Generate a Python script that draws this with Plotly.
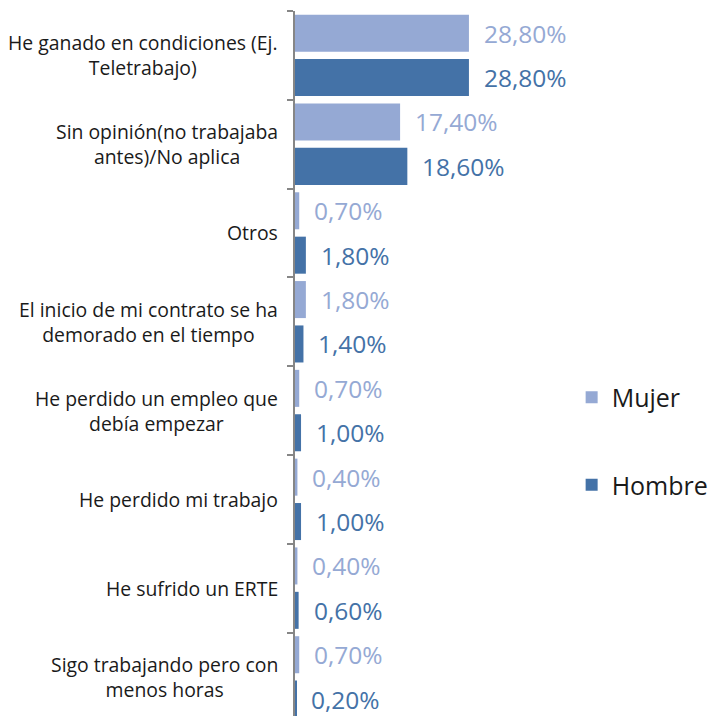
import plotly.graph_objects as go

categories = [
    "He ganado en condiciones (Ej.<br>Teletrabajo)",
    "Sin opinión(no trabajaba<br>antes)/No aplica",
    "Otros",
    "El inicio de mi contrato se ha<br>demorado en el tiempo",
    "He perdido un empleo que<br>debía empezar",
    "He perdido mi trabajo",
    "He sufrido un ERTE",
    "Sigo trabajando pero con<br>menos horas",
]
mujer = [28.8, 17.4, 0.7, 1.8, 0.7, 0.4, 0.4, 0.7]
hombre = [28.8, 18.6, 1.8, 1.4, 1.0, 1.0, 0.6, 0.2]

series = [("Mujer", mujer, "#95A9D4"), ("Hombre", hombre, "#4472A7")]

FONT = "Open Sans"
idx = list(range(len(categories)))


def fmt(v):
    return f"{v:.2f}".replace(".", ",") + "%"


fig = go.Figure()
for name, vals, color in series:
    fig.add_trace(go.Bar(
        name=name, y=idx, x=vals, orientation="h",
        marker=dict(color=color, line=dict(width=0)),
        legendgroup=name,
    ))

annotations = []
# value labels to the right of each bar
for k, (name, vals, color) in enumerate(series):
    off = -0.25 if k == 0 else 0.25
    for i, v in enumerate(vals):
        annotations.append(dict(
            x=v, y=i + off, xref="x", yref="y", text=fmt(v),
            showarrow=False, xanchor="left", yanchor="middle", xshift=13,
            font=dict(family=FONT, size=24.5, color=color),
        ))
# category labels, centred multi-line blocks
for i, c in enumerate(categories):
    annotations.append(dict(
        x=0, y=i, xref="paper", yref="y", text=c, showarrow=False,
        xanchor="right", yanchor="middle", align="center", xshift=-15,
        font=dict(family=FONT, size=19.4, color="#1a1a1a"),
    ))

fig.update_layout(
    width=709, height=716,
    margin=dict(l=295, r=134, t=11, b=0, autoexpand=False),
    paper_bgcolor="white", plot_bgcolor="white",
    barmode="group", bargap=0.0, bargroupgap=0.166,
    showlegend=True,
    legend=dict(
        x=0.988, y=0.39, xanchor="left", yanchor="middle",
        traceorder="grouped", tracegroupgap=52,
        font=dict(family=FONT, size=25, color="#1a1a1a"),
        itemclick=False,
    ),
    annotations=annotations,
    xaxis=dict(range=[0, 46.36], visible=False, showgrid=False, zeroline=False),
    yaxis=dict(
        range=[7.44, -0.5], showgrid=False, zeroline=False,
        tickmode="array", tickvals=[i - 0.5 for i in idx], ticktext=[""] * len(idx),
        ticks="outside", ticklen=6, tickwidth=2, tickcolor="#868686",
        showline=True, linecolor="#868686", linewidth=2,
    ),
)

fig.write_html("out.html")
